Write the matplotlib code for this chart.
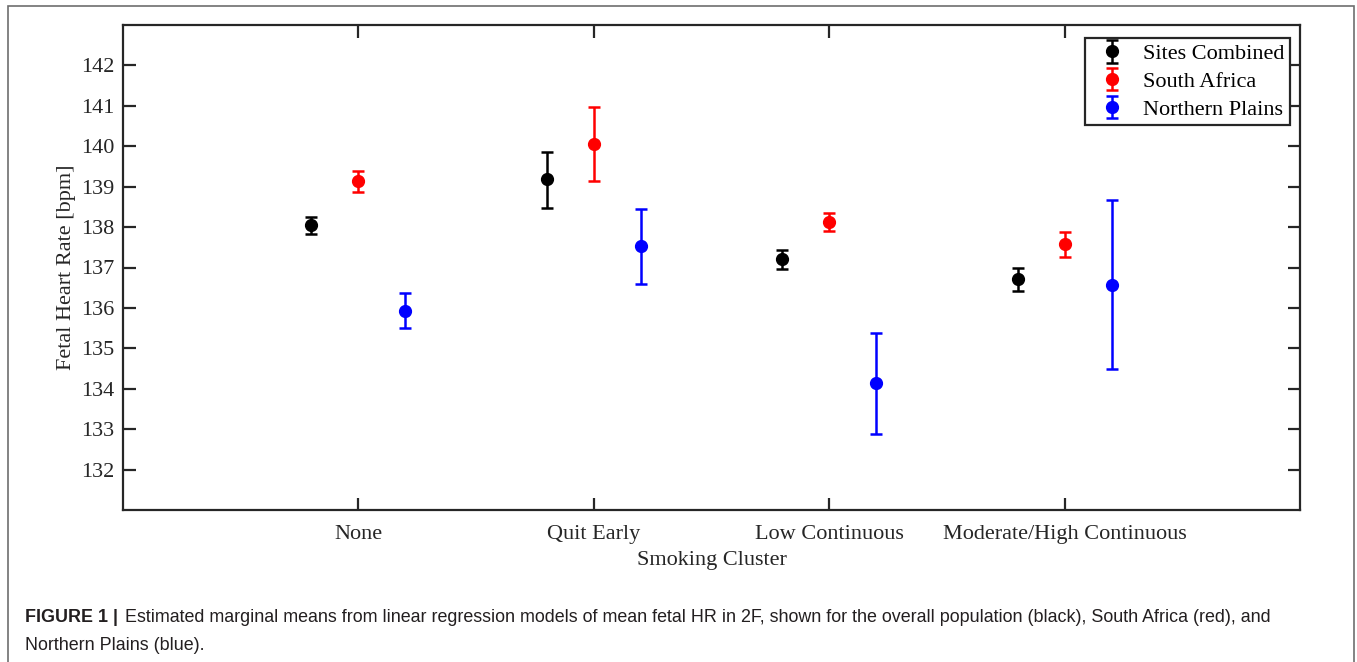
import matplotlib
matplotlib.use("Agg")
import matplotlib.pyplot as plt
from matplotlib.patches import Rectangle
import numpy as np

categories = ["None", "Quit Early", "Low Continuous", "Moderate/High Continuous"]
series = ["Sites Combined", "South Africa", "Northern Plains"]
colors = ["#000000", "#FF0000", "#0000FF"]

combined_mean = [138.04, 139.19, 137.20, 136.71]
combined_low = [137.82, 138.48, 136.97, 136.42]
combined_high = [138.26, 139.87, 137.43, 137.00]

sa_mean = [139.13, 140.06, 138.13, 137.58]
sa_low = [138.87, 139.15, 137.90, 137.27]
sa_high = [139.39, 140.98, 138.36, 137.87]

np_mean = [135.93, 137.52, 134.14, 136.57]
np_low = [135.50, 136.60, 132.88, 134.49]
np_high = [136.36, 138.44, 135.39, 138.66]

yticks = [132, 133, 134, 135, 136, 137, 138, 139, 140, 141, 142]

plt.rcParams['font.family'] = ['Liberation Serif', 'DejaVu Serif']
dark = "#262626"

fig = plt.figure(figsize=(13.57, 6.62), dpi=100)
W, H = 1357, 662
ax = fig.add_axes([123 / W, 1 - 510 / H, (1300 - 123) / W, (510 - 25) / H])

means = [combined_mean, sa_mean, np_mean]
lows = [combined_low, sa_low, np_low]
highs = [combined_high, sa_high, np_high]
offsets = [-0.2, 0.0, 0.2]
x = np.arange(1, len(categories) + 1)
for m, lo, hi, c, off, name in zip(means, lows, highs, colors, offsets, series):
    m = np.array(m); lo = np.array(lo); hi = np.array(hi)
    ax.errorbar(x + off, m, yerr=[m - lo, hi - m], fmt='o', color=c, ecolor=c,
                markersize=8.5, elinewidth=1.8, capsize=4.5, capthick=1.8, label=name)

ax.set_xlim(0, 5)
ax.set_ylim(131, 143)
ax.set_xticks(x)
ax.set_xticklabels(categories)
ax.set_yticks(yticks)
ax.tick_params(direction='in', top=True, right=True, length=9, width=1.6,
               colors=dark, labelsize=16, labelcolor=dark)
ax.tick_params(axis='x', pad=10.5)
ax.tick_params(axis='y', pad=6)
for s in ax.spines.values():
    s.set_linewidth(1.6)
    s.set_color(dark)
ax.set_xlabel("Smoking Cluster", fontsize=16, color=dark, labelpad=5.5)
ax.set_ylabel("Fetal Heart Rate [bpm]", fontsize=16, color=dark, labelpad=4)

leg = ax.legend(loc='upper right', bbox_to_anchor=(0.9915, 0.973), fontsize=16,
                frameon=True, fancybox=False, edgecolor=dark, framealpha=1,
                borderpad=0.25, labelspacing=0.32, handletextpad=0.38, handlelength=2.0,
                borderaxespad=0)
leg.get_frame().set_linewidth(1.6)
for t in leg.get_texts():
    t.set_color('black')

# figure border
fig.patches.append(Rectangle((8 / W, -0.01), (1354 - 8) / W, 1 - 6 / H + 0.01,
                             transform=fig.transFigure, fill=False,
                             edgecolor='#6e6e6e', linewidth=1.2))

cap_font = ['Liberation Sans', 'DejaVu Sans']
cap_size = 12.9
fig.text(25 / W, 1 - 618 / H, "FIGURE 1 |", fontsize=cap_size, fontweight='bold',
         family=cap_font, color='#231f20', va='center', ha='left')
fig.text(125 / W, 1 - 618 / H,
         "Estimated marginal means from linear regression models of mean fetal HR in 2F, shown for the overall population (black), South Africa (red), and",
         fontsize=cap_size, family=cap_font, color='#231f20', va='center', ha='left')
fig.text(25 / W, 1 - 645 / H, "Northern Plains (blue).", fontsize=cap_size,
         family=cap_font, color='#231f20', va='center', ha='left')

fig.savefig("out.png", dpi=100)
